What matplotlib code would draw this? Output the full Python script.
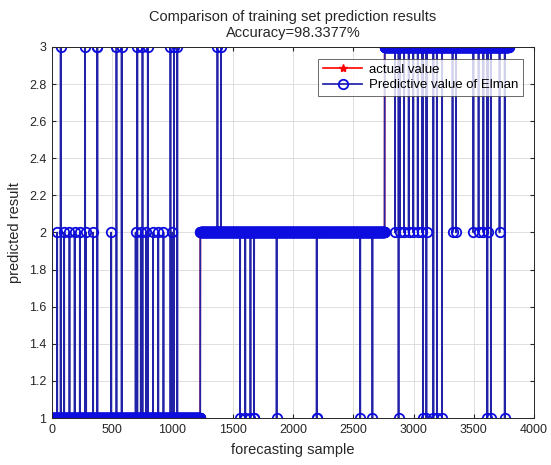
import numpy as np
import matplotlib
matplotlib.use("Agg")
import matplotlib.pyplot as plt

plt.rcParams['font.family'] = ['Liberation Sans', 'DejaVu Sans']

# ---- data ----
class_values = [1, 2, 3]
class_counts = [1230, 1530, 1030]          # samples per true class, in order

# sample numbers where the prediction differs from the actual value
pred_as_1 = [1561, 1604, 1647, 1676, 1677, 1864, 2196, 2197, 2558, 2659,
             2876, 3078, 3107, 3165, 3194, 3237, 3613, 3642, 3757]
pred_as_2 = [43, 101, 145, 188, 231, 283, 341, 491, 694, 737, 780, 838, 882, 925, 997,
             2847, 2885, 2922, 2960, 2998, 3035, 3072, 3112, 3324, 3353, 3497, 3540,
             3580, 3618, 3714]
pred_as_3 = [72, 275, 376, 377, 535, 578, 708, 751, 795, 983, 1012, 1040, 1373, 1402]

x_ticks = [0, 500, 1000, 1500, 2000, 2500, 3000, 3500, 4000]
y_ticks = [1, 1.2, 1.4, 1.6, 1.8, 2, 2.2, 2.4, 2.6, 2.8, 3]
y_tick_labels = ['1', '1.2', '1.4', '1.6', '1.8', '2', '2.2', '2.4', '2.6', '2.8', '3']

actual = np.repeat(class_values, class_counts).astype(float)
pred = actual.copy()
for val, idx in ((1, pred_as_1), (2, pred_as_2), (3, pred_as_3)):
    pred[np.array(idx) - 1] = val
samples = np.arange(1, len(actual) + 1)

acc = 100.0 * np.mean(pred == actual)

TXT = '#262626'
fig = plt.figure(figsize=(5.51, 4.65), dpi=100)
ax = fig.add_axes([52/551, 1 - 418/465, (534-52)/551, (418-47)/465])

ax.plot(samples, actual, color='r', marker='*', markersize=6, linewidth=1.2,
        label='actual value')
ax.plot(samples, pred, color='#2222a8', marker='o', markersize=6.8, markerfacecolor='none',
        markeredgecolor='#0d0de0', markeredgewidth=1.3, linewidth=1.25,
        label='Predictive value of Elman')

ax.set_xlim(0, 4000)
ax.set_ylim(1, 3)
ax.set_xticks(x_ticks)
ax.set_yticks(y_ticks)
ax.set_yticklabels(y_tick_labels)
ax.grid(True, color='#dedede', linewidth=0.7)
ax.set_axisbelow(True)
ax.tick_params(direction='in', labelsize=9, colors=TXT, length=3,
               top=True, right=True, pad=4)
for s in ax.spines.values():
    s.set_color(TXT)
    s.set_linewidth(0.7)

ax.set_xlabel('forecasting sample', fontsize=10.5, color=TXT, labelpad=5)
ax.set_ylabel('predicted result', fontsize=10.5, color=TXT, labelpad=5)
ax.set_title('Comparison of training set prediction results\nAccuracy=%.4f%%' % acc,
             fontsize=10.5, color=TXT, pad=7, linespacing=1.2)

leg = ax.legend(loc='upper right', fontsize=9.5, frameon=True, fancybox=False,
                borderpad=0.35, handlelength=3.0, handletextpad=0.5,
                labelspacing=0.25, borderaxespad=0.0,
                bbox_to_anchor=(1 - 11/482, 1 - 12/371))
leg.get_frame().set_edgecolor(TXT)
leg.get_frame().set_linewidth(0.6)

fig.savefig('out.png', dpi=100)
